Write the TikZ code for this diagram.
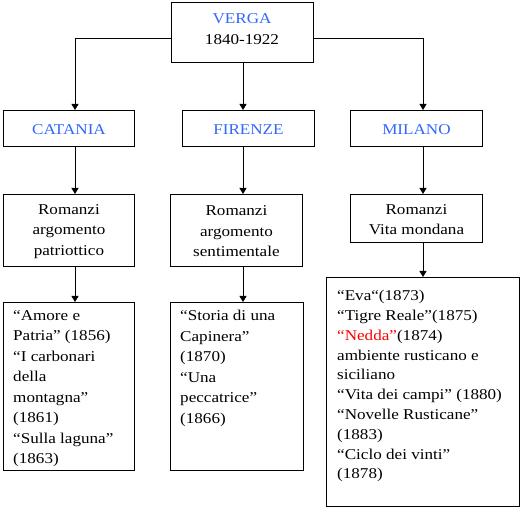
\documentclass[tikz,border=0pt]{standalone}
\usepackage{fontspec}
\setmainfont[FakeStretch=1.14]{Liberation Serif}
\usetikzlibrary{arrows.meta}
\definecolor{tblue}{RGB}{51,102,255}
\definecolor{tred}{RGB}{255,0,0}
\begin{document}
\begin{tikzpicture}[x=1pt,y=-1pt,
  every node/.style={font=\fontsize{15}{20.5}\selectfont},
  box/.style={draw=black,line width=0.9pt,inner sep=0pt,anchor=north west},
  lbl/.style={inner sep=0pt,align=center},
  lst/.style={inner sep=0pt,align=left,anchor=north west},
  arr/.style={line width=0.9pt,-{Triangle[width=7pt,length=6pt]}},
  ln/.style={line width=0.9pt}]
\useasboundingbox (0,0) rectangle (522,510);
% boxes
\node[box,minimum width=142pt,minimum height=60pt] (verga) at (171,2) {};
\node[box,minimum width=131pt,minimum height=36pt] (catania) at (3,110) {};
\node[box,minimum width=132pt,minimum height=36pt] (firenze) at (182,110) {};
\node[box,minimum width=132pt,minimum height=36pt] (milano) at (350,110) {};
\node[box,minimum width=131pt,minimum height=72pt] (romc) at (3,194) {};
\node[box,minimum width=132pt,minimum height=72pt] (romf) at (170,194) {};
\node[box,minimum width=132pt,minimum height=48pt] (romm) at (350,194) {};
\node[box,minimum width=131pt,minimum height=168pt] (listc) at (3,302) {};
\node[box,minimum width=133pt,minimum height=168pt] (listf) at (170,302) {};
\node[box,minimum width=193pt,minimum height=229pt] (listm) at (326,277) {};
% texts
\node[lbl] (t1) at (242,29) {\textcolor{tblue}{VERGA}\\1840-1922};
\node[lbl,text=tblue] (t2) at ([yshift=-1pt]catania.center) {CATANIA};
\node[lbl,text=tblue] (t3) at ([yshift=-1pt]firenze.center) {FIRENZE};
\node[lbl,text=tblue] (t4) at ([yshift=-1pt]milano.center) {MILANO};
\node[lbl] (t5) at ([yshift=-1pt]romc.center) {Romanzi\\argomento\\patriottico};
\node[lbl] (t6) at ([yshift=-1pt]romf.center) {Romanzi\\argomento\\sentimentale};
\node[lbl] (t7) at ([yshift=-1pt]romm.center) {Romanzi\\Vita mondana};
\node[lst] (t8) at (13,310) {“Amore e\\Patria” (1856)\\“I carbonari\\della\\montagna”\\(1861)\\“Sulla laguna”\\(1863)};
\node[lst] (t9) at (180,310) {“Storia di una\\Capinera”\\(1870)\\“Una\\peccatrice”\\(1866)};
\node[lst,font=\fontsize{15}{19.8}\selectfont] (t10) at (337,290) {“Eva“(1873)\\“Tigre Reale”(1875)\\\textcolor{tred}{“Nedda”}(1874)\\ambiente rusticano e\\siciliano\\“Vita dei campi” (1880)\\“Novelle Rusticane”\\(1883)\\“Ciclo dei vinti”\\(1878)};
% column x positions
\coordinate (c1) at (75,0);
\coordinate (c2) at (243,0);
\coordinate (c3) at (423,0);
% connectors
\draw[arr] ([yshift=-6pt]verga.west) -| (catania.north -| c1);
\draw[arr] (verga.south -| c2) -- (firenze.north -| c2);
\draw[arr] ([yshift=-6pt]verga.east) -| (milano.north -| c3);
\draw[arr] (catania.south -| c1) -- (romc.north -| c1);
\draw[arr] (firenze.south -| c2) -- (romf.north -| c2);
\draw[arr] (milano.south -| c3) -- (romm.north -| c3);
\draw[arr] (romc.south -| c1) -- (listc.north -| c1);
\draw[arr] (romf.south -| c2) -- (listf.north -| c2);
\draw[arr] (romm.south -| c3) -- (listm.north -| c3);
\end{tikzpicture}
\end{document}
